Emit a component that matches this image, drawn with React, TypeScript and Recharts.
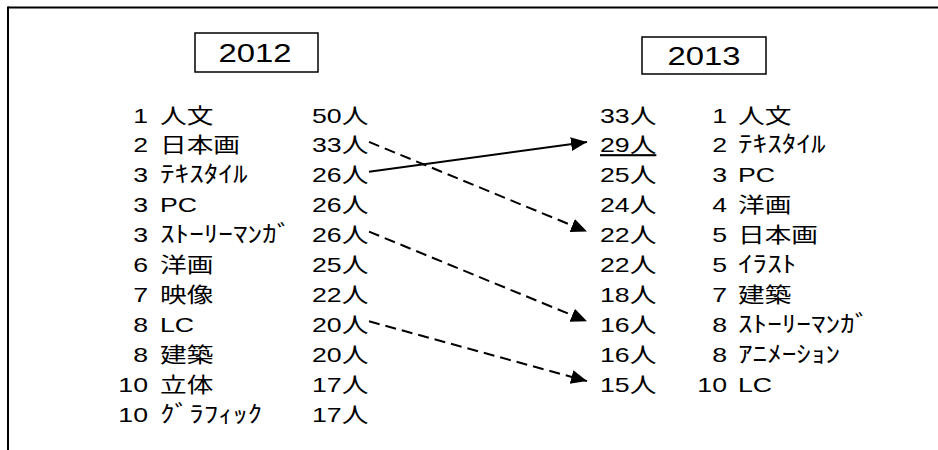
import React from 'react';
import { ScatterChart, Scatter, XAxis, YAxis, Customized } from 'recharts';

// ---------- data ----------
const years = ['2012', '2013'];
const unit = '人';

const ranks2012 = [1, 2, 3, 3, 3, 6, 7, 8, 8, 10, 10];
const names2012 = ['人文', '日本画', 'ﾃｷｽﾀｲﾙ', 'PC', 'ｽﾄｰﾘｰﾏﾝｶﾞ', '洋画', '映像', 'LC', '建築', '立体', 'ｸﾞﾗﾌｨｯｸ'];
const counts2012 = [50, 33, 26, 26, 26, 25, 22, 20, 20, 17, 17];

const ranks2013 = [1, 2, 3, 4, 5, 5, 7, 8, 8, 10];
const names2013 = ['人文', 'ﾃｷｽﾀｲﾙ', 'PC', '洋画', '日本画', 'ｲﾗｽﾄ', '建築', 'ｽﾄｰﾘｰﾏﾝｶﾞ', 'ｱﾆﾒｰｼｮﾝ', 'LC'];
const counts2013 = [33, 29, 25, 24, 22, 22, 18, 16, 16, 15];
const underlinedRow2013 = 2;

// arrows: row in 2012 list -> row in 2013 list
const arrowFrom = [3, 2, 5, 8];
const arrowTo = [2, 5, 8, 10];
const arrowDashed = [false, true, true, true];

// ---------- layout ----------
const W = 938;
const H = 450;
const FONT = '"Liberation Sans", "Noto Sans CJK JP", sans-serif';
const FS = 21;
const FS_HALFWIDTH = 23;
const SX = 1.27;
const COL = {
  rank2012: 148,
  name2012: 160,
  count2012: 312,
  count2013: 600,
  rank2013: 727,
  name2013: 738,
  arrowStart: 369,
  arrowEnd: 587,
};
const HEADERS = [
  { x: 195, y: 33, w: 123, h: 39, cx: 255, base: 62 },
  { x: 642, y: 37, w: 124, h: 37, cx: 704, base: 65 },
];

type Cell = { x: number; y: number; label: string; anchor: 'start' | 'end'; underline?: boolean };

const col = (x: number, labels: string[], anchor: 'start' | 'end', underlineRow?: number): Cell[] =>
  labels.map((label, i) => ({ x, y: i + 1, label, anchor, underline: underlineRow === i + 1 }));

const rank2012Data = col(COL.rank2012, ranks2012.map(String), 'end');
const name2012Data = col(COL.name2012, names2012, 'start');
const count2012Data = col(COL.count2012, counts2012.map((c) => `${c}${unit}`), 'start');
const count2013Data = col(COL.count2013, counts2013.map((c) => `${c}${unit}`), 'start', underlinedRow2013);
const rank2013Data = col(COL.rank2013, ranks2013.map(String), 'end');
const name2013Data = col(COL.name2013, names2013, 'start');

const isHalfwidth = (s: string) => /[\uFF61-\uFF9F]/.test(s);

const TextShape = (props: any) => {
  const { cx, cy, payload } = props;
  if (cx == null || cy == null) return <g />;
  const fs = isHalfwidth(payload.label) ? FS_HALFWIDTH : FS;
  return (
    <g transform={`translate(${cx},${cy + 7.5}) scale(${SX},1)`}>
      <text
        x={0}
        y={0}
        textAnchor={payload.anchor}
        fontSize={fs}
        fontFamily={FONT}
        fill="#000"
        style={payload.underline ? { textDecoration: 'underline' } : undefined}
      >
        {payload.label}
      </text>
    </g>
  );
};

const Empty = () => <g />;

const Decor = () => (
  <g>
    <defs>
      <marker
        id="arrowHead"
        markerWidth={18}
        markerHeight={16}
        refX={16}
        refY={7}
        orient="auto"
        markerUnits="userSpaceOnUse"
      >
        <path d="M0,0 L16,7 L0,14 z" fill="#000" />
      </marker>
    </defs>
    <line x1={8} y1={7.5} x2={W} y2={7.5} stroke="#000" strokeWidth={2} />
    <line x1={8} y1={6.5} x2={8} y2={H} stroke="#000" strokeWidth={2} />
    {years.map((yr, i) => {
      const h = HEADERS[i];
      return (
        <g key={yr}>
          <rect x={h.x} y={h.y} width={h.w} height={h.h} fill="#fff" stroke="#000" strokeWidth={1.5} />
          <g transform={`translate(${h.cx},${h.base}) scale(1.24,1)`}>
            <text x={0} y={0} textAnchor="middle" fontSize={26.5} fontFamily={FONT} fill="#000">
              {yr}
            </text>
          </g>
        </g>
      );
    })}
  </g>
);

export default function App() {
  return (
    <div style={{ position: 'absolute', left: 0, top: 0, width: W, height: H, background: '#fff' }}>
      <ScatterChart width={W} height={H} margin={{ top: 115, bottom: 36, left: 0, right: 0 }}>
        <XAxis type="number" dataKey="x" domain={[0, W]} hide />
        <YAxis type="number" dataKey="y" domain={[1, 11]} reversed hide />
        <YAxis yAxisId="arrow" type="number" dataKey="y" domain={[1.1, 11.1]} reversed hide />
        <Customized component={Decor} />
        {arrowFrom.map((f, i) => (
          <Scatter
            key={`arrow-${i}`}
            yAxisId="arrow"
            data={[
              { x: COL.arrowStart, y: f },
              { x: COL.arrowEnd, y: arrowTo[i] },
            ]}
            fill="#000"
            line={{
              stroke: '#000',
              strokeWidth: 2,
              strokeDasharray: arrowDashed[i] ? '11 6' : undefined,
              markerEnd: 'url(#arrowHead)',
            }}
            shape={Empty}
            isAnimationActive={false}
          />
        ))}
        <Scatter data={rank2012Data} shape={TextShape} isAnimationActive={false} />
        <Scatter data={name2012Data} shape={TextShape} isAnimationActive={false} />
        <Scatter data={count2012Data} shape={TextShape} isAnimationActive={false} />
        <Scatter data={count2013Data} shape={TextShape} isAnimationActive={false} />
        <Scatter data={rank2013Data} shape={TextShape} isAnimationActive={false} />
        <Scatter data={name2013Data} shape={TextShape} isAnimationActive={false} />
      </ScatterChart>
    </div>
  );
}
